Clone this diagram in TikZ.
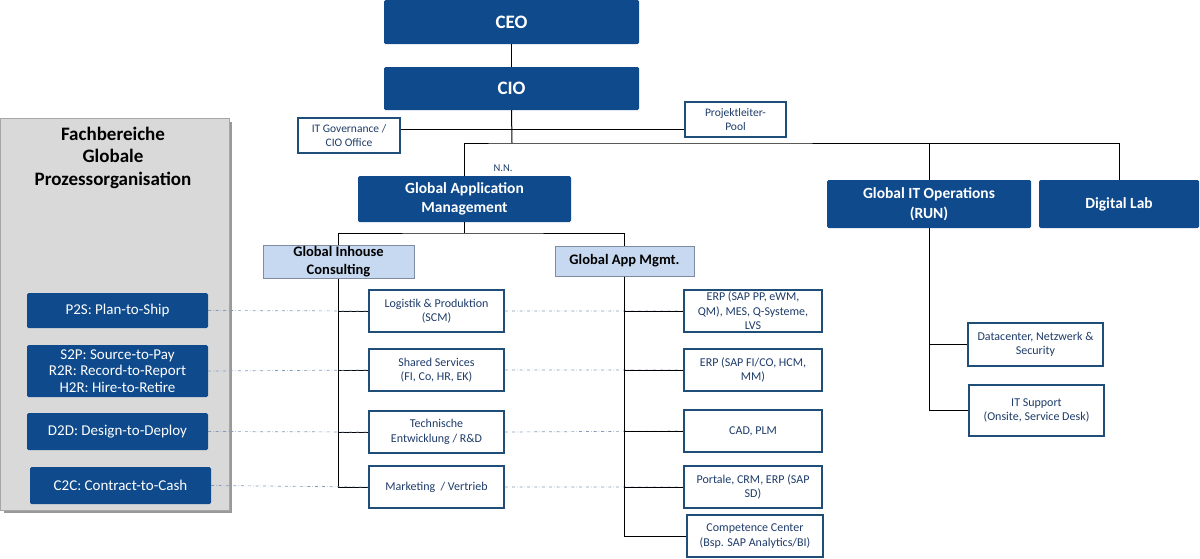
\documentclass[tikz,border=0pt]{standalone}
\usepackage{fontspec}
\setmainfont{Carlito}
\definecolor{orgblue}{RGB}{14,74,140}
\definecolor{unitblue}{RGB}{31,78,121}
\definecolor{unittext}{RGB}{30,60,105}
\definecolor{teamfill}{RGB}{198,217,241}
\definecolor{teamline}{RGB}{127,140,160}
\definecolor{panelfill}{RGB}{217,217,217}
\definecolor{linkcol}{RGB}{130,155,185}

\begin{document}
\begin{tikzpicture}[x=1pt,y=-1pt]
	\tikzset{head/.style={fill=orgblue, rounded corners=1.5pt, text=white, align=center, inner sep=1pt, font=\bfseries\fontsize{15.5}{19.5}\selectfont},
		unit/.style={draw=unitblue, line width=1.6pt, fill=white, text=unittext, align=center, inner sep=1pt, minimum width=135pt, minimum height=42pt, font=\fontsize{12}{14.5}\selectfont},
		team/.style={draw=teamline, line width=1pt, fill=teamfill, align=center, inner sep=1pt, font=\bfseries\fontsize{14.5}{18}\selectfont},
		process/.style={fill=orgblue, rounded corners=1.5pt, text=white, align=center, inner sep=1pt, minimum width=181pt, font=\fontsize{15}{16.5}\selectfont},
		link/.style={draw=linkcol, dash dot, line width=0.7pt}}
	\def \rx {753}
	\useasboundingbox (0,0) rectangle (1200,558);
	
	% Fachbereiche
	\fill[gray!80] (4,122) rectangle (232,513);
	\node[draw=gray!70, fill=panelfill, minimum width=229pt, minimum height=392pt, inner sep=0pt] (panel) at (114.5,314) {};
	\node[font=\bfseries\fontsize{19}{22.5}\selectfont, align=center] (fbtitle) at (113,157.5) {Fachbereiche\\Globale\\Prozessorganisation};
	\node[process, minimum height=35pt] (p1) at (117.5,310.5) {P2S: Plan-to-Ship};
	\node[process, minimum height=52pt] (p2) at (117.5,371) {S2P: Source-to-Pay\\R2R: Record-to-Report\\H2R: Hire-to-Retire};
	\node[process, minimum height=37pt] (p3) at (117.5,431.5) {D2D: Design-to-Deploy};
	\node[process, minimum height=37pt] (p4) at (120.5,485.5) {C2C: Contract-to-Cash};
	
	% Leitung
	\node[head, minimum width=255pt, minimum height=44pt, font=\bfseries\fontsize{19}{22}\selectfont] (ceo) at (511.5,22) {CEO};
	\node[head, minimum width=255pt, minimum height=43pt, font=\bfseries\fontsize{19}{22}\selectfont] (cio) at (511.5,88.5) {CIO};
	\node[unit, minimum width=102pt, minimum height=35pt, font=\fontsize{11.5}{14}\selectfont] (gov) at (349,135.5) {IT Governance /\\CIO Office};
	\node[unit, minimum width=101pt, minimum height=35pt, font=\fontsize{11.5}{14}\selectfont] (pool) at (735.5,119.5) {Projektleiter-\\Pool};
	\node[head, minimum width=213pt, minimum height=46pt] (gam) at (464.5,199) {Global Application\\Management};
	\node[font=\fontsize{10.5}{11}\selectfont, text=unittext] (nn) at (503,168) {N.N.};
	\node[head, minimum width=204pt, minimum height=48pt] (ops) at (929,204) {Global IT Operations\\(RUN)};
	\node[head, minimum width=160pt, minimum height=48pt] (lab) at (1119,204) {Digital Lab};
	
	\coordinate (staff) at (512,129);
	\coordinate (bus) at (512,143);
	\coordinate (gbus) at (464.5,233);
	\draw[line width=1pt] (ceo) -- (cio);
	\draw[line width=1pt] (cio.south) -- (bus);
	\draw[line width=1pt] (staff -| gov.east) -- (staff -| pool.west);
	\draw[line width=1pt] (gam.north) |- (bus) -| (lab.north);
	\draw[line width=1pt] (bus -| ops.north) -- (ops.north);
	
	% Global Application Management
	\node[team, minimum width=151pt, minimum height=32pt] (gic) at (338.5,262) {Global Inhouse\\Consulting};
	\node[team, minimum width=139pt, minimum height=30pt] (gapp) at (624.5,261) {Global App Mgmt.};
	\draw[line width=1pt] (gam.south) -- (gbus);
	\draw[line width=1pt] (gic.north) |- (gbus) -| (gapp.north);
	
	\node[unit] (l1) at (436.5,311) {Logistik \& Produktion\\(SCM)};
	\node[unit] (l2) at (436.5,370) {Shared Services\\(FI, Co, HR, EK)};
	\node[unit] (l3) at (436.5,432) {Technische\\Entwicklung / R\&D};
	\node[unit] (l4) at (436.5,487) {Marketing~~/ Vertrieb};
	
	\node[unit, minimum width=138pt] (r1) at (\rx,311) {ERP (SAP PP, eWM,\\QM), MES, Q-Systeme,\\LVS};
	\node[unit, minimum width=138pt] (r2) at (\rx,370) {ERP (SAP FI/CO, HCM,\\MM)};
	\node[unit, minimum width=138pt] (r3) at (\rx,431) {CAD, PLM};
	\node[unit, minimum width=138pt] (r4) at (\rx,487) {Portale, CRM, ERP (SAP\\SD)};
	\node[unit, minimum width=136pt] (r5) at (755,536) {Competence Center\\(Bsp. SAP Analytics/BI)};
	
	\foreach \i in {1,...,4}{
		\draw[line width=1pt] (gic.south) |- (l\i.west);
		\draw[link] (p\i.east) -- (l\i.west) (l\i.east) -- (r\i.west);
	}
	\foreach \i in {1,...,5}
		\draw[line width=1pt] (gapp.south) |- (r\i.west);
	
	% Global IT Operations
	\node[unit, minimum height=43pt] (dc) at (1035.5,344.5) {Datacenter, Netzwerk \&\\Security};
	\node[unit, minimum height=51pt] (sup) at (1036.5,410.5) {IT Support\\(Onsite, Service Desk)};
	\draw[line width=1pt] (ops.south) |- (dc.west);
	\draw[line width=1pt] (ops.south) |- (sup.west);
\end{tikzpicture}
\end{document}
